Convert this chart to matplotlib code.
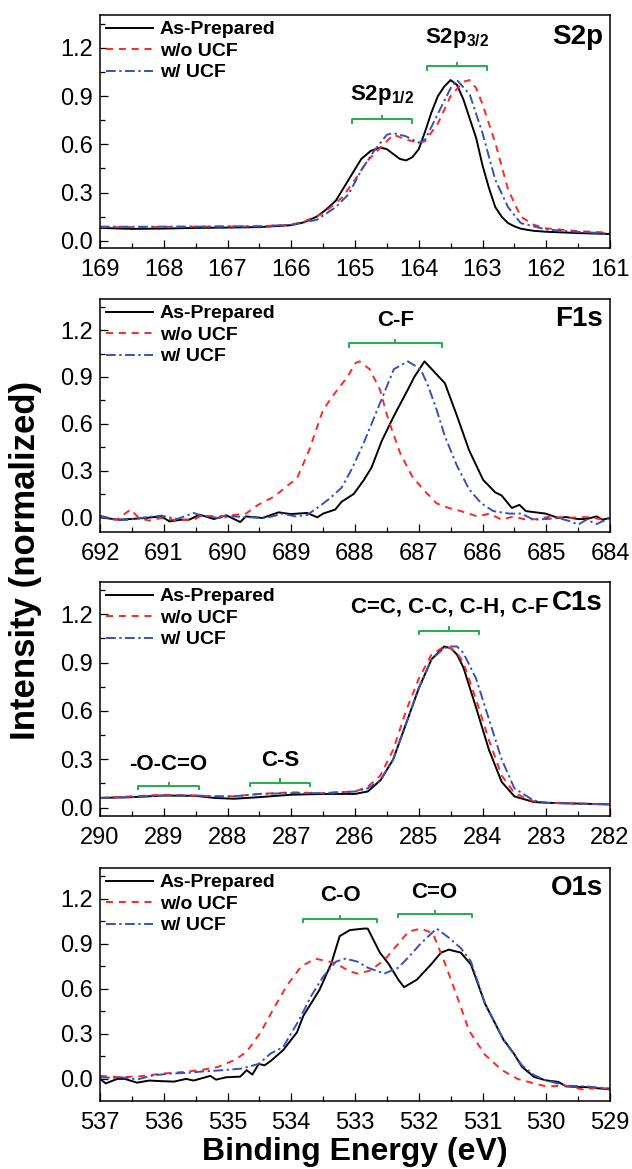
import matplotlib
matplotlib.use('Agg')
import matplotlib.pyplot as plt
from matplotlib.ticker import MultipleLocator, FormatStrFormatter

plt.rcParams['font.family'] = ['Liberation Sans', 'DejaVu Sans']
plt.rcParams['mathtext.fontset'] = 'custom'
plt.rcParams['mathtext.rm'] = 'Liberation Sans'
plt.rcParams['mathtext.bf'] = 'Liberation Sans:bold'

series_names = ['As-Prepared', 'w/o UCF', 'w/ UCF']

# ---- S2p ----
s2p_be_ap = [169, 168.5, 168, 167.5, 167, 166.5, 166, 165.8, 165.6, 165.45, 165.3, 165.1, 164.9,
             164.75, 164.6, 164.5, 164.4, 164.3, 164.2, 164.1, 164.0, 163.9, 163.8, 163.7, 163.6,
             163.5, 163.4, 163.3, 163.2, 163.1, 163.0, 162.9, 162.8, 162.7, 162.6, 162.5, 162.4,
             162.2, 162.0, 161.5, 161]
s2p_ap = [0.08, 0.074, 0.076, 0.08, 0.082, 0.085, 0.097, 0.115, 0.15, 0.195, 0.25, 0.38, 0.51,
          0.56, 0.58, 0.57, 0.54, 0.51, 0.50, 0.52, 0.57, 0.68, 0.80, 0.90, 0.96,
          1.0, 0.97, 0.88, 0.76, 0.64, 0.47, 0.33, 0.21, 0.15, 0.11, 0.09, 0.075,
          0.062, 0.056, 0.048, 0.042]
s2p_be_wo = [169, 168.5, 168, 167.5, 167, 166.5, 166, 165.8, 165.5, 165.2, 165.0, 164.8, 164.6,
             164.4, 164.2, 164.0, 163.9, 163.7, 163.5, 163.3, 163.2, 163.1, 163.0, 162.8, 162.6,
             162.4, 162.2, 162.0, 161.5, 161]
s2p_wo = [0.085, 0.085, 0.086, 0.088, 0.088, 0.09, 0.10, 0.12, 0.17, 0.27, 0.38, 0.50, 0.58,
          0.66, 0.63, 0.61, 0.62, 0.73, 0.90, 0.99, 1.0, 0.95, 0.85, 0.61, 0.32,
          0.15, 0.10, 0.077, 0.06, 0.05]
s2p_be_w = [169, 168.5, 168, 167.5, 167, 166.5, 166, 165.6, 165.3, 165.1, 164.9, 164.7, 164.5,
            164.4, 164.2, 164.0, 163.9, 163.7, 163.5, 163.4, 163.2, 163.0, 162.8, 162.6, 162.4,
            162.0, 161.5, 161]
s2p_w = [0.088, 0.087, 0.088, 0.088, 0.09, 0.09, 0.10, 0.13, 0.21, 0.29, 0.44, 0.56, 0.66,
         0.67, 0.65, 0.61, 0.63, 0.79, 0.95, 1.0, 0.91, 0.67, 0.38, 0.21, 0.11,
         0.07, 0.055, 0.045]

# ---- F1s ----
f1s_be_ap = [692, 691.71, 691.49, 691.29, 691.04, 690.91, 690.72, 690.60, 690.44, 690.21, 690.02,
             689.80, 689.71, 689.45, 689.20, 689.01, 688.75, 688.59, 688.50, 688.31, 688.21,
             688.02, 687.86, 687.74, 687.58, 687.39, 687.17, 687.07, 686.91, 686.75, 686.59,
             686.40, 686.21, 685.99, 685.80, 685.70, 685.54, 685.42, 685.32, 685.13, 685.01,
             684.81, 684.69, 684.50, 684.37, 684.21, 684.12, 684.0]
f1s_ap = [0.0, -0.015, -0.01, -0.004, 0.006, -0.026, -0.015, -0.015, 0.017, -0.011, 0.013,
          -0.03, 0.006, -0.004, 0.032, 0.021, 0.028, 0.0, 0.024, 0.05, 0.10,
          0.15, 0.24, 0.32, 0.49, 0.65, 0.82, 0.90, 1.0, 0.93, 0.86,
          0.65, 0.43, 0.24, 0.16, 0.14, 0.06, 0.08, 0.04, 0.03, 0.024,
          -0.004, 0.002, -0.011, -0.011, 0.006, -0.015, -0.004]
f1s_be_wo = [692, 691.74, 691.52, 691.39, 691.23, 691.04, 690.79, 690.53, 690.41, 690.15, 689.90,
             689.71, 689.52, 689.26, 689.07, 688.91, 688.72, 688.50, 688.31, 688.12, 687.99,
             687.93, 687.77, 687.61, 687.48, 687.29, 687.10, 686.91, 686.72, 686.53, 686.34,
             686.08, 685.89, 685.70, 685.51, 685.32, 685.13, 684.94, 684.69, 684.50, 684.31,
             684.12, 684.0]
f1s_wo = [0.006, -0.015, 0.05, -0.004, -0.021, -0.004, -0.019, -0.015, 0.011, 0.006, 0.015,
          0.024, 0.08, 0.135, 0.20, 0.25, 0.43, 0.69, 0.80, 0.90, 0.99,
          1.0, 0.95, 0.82, 0.63, 0.41, 0.26, 0.17, 0.09, 0.06, 0.04,
          0.006, 0.024, -0.015, 0.006, -0.015, -0.011, 0.006, -0.004, 0.0, 0.002,
          -0.015, -0.004]
f1s_be_w = [692, 691.74, 691.55, 691.29, 691.04, 690.79, 690.53, 690.41, 690.15, 689.90, 689.64,
            689.39, 689.13, 688.94, 688.75, 688.56, 688.40, 688.21, 688.05, 687.86, 687.67,
            687.48, 687.39, 687.17, 686.97, 686.85, 686.72, 686.59, 686.40, 686.21, 686.02,
            685.83, 685.58, 685.39, 685.20, 685.01, 684.81, 684.62, 684.50, 684.37, 684.21,
            684.12, 684.0]
f1s_w = [0.011, -0.019, -0.015, 0.0, 0.011, -0.011, 0.028, 0.011, -0.004, 0.006, 0.0,
         -0.004, 0.024, 0.006, 0.015, 0.07, 0.12, 0.19, 0.31, 0.48, 0.67,
         0.86, 0.95, 1.0, 0.95, 0.84, 0.69, 0.52, 0.33, 0.18, 0.09,
         0.04, 0.024, 0.024, -0.015, -0.011, -0.004, -0.026, -0.047, -0.015, -0.043,
         -0.026, -0.004]

# ---- C1s ----
c1s_be = [290, 289.5, 289, 288.5, 288.2, 287.9, 287.5, 287, 286.5, 286, 285.8, 285.6, 285.4,
          285.2, 285.0, 284.8, 284.6, 284.5, 284.4, 284.3, 284.1, 283.9, 283.7, 283.5, 283.2,
          283.0, 282.5, 282]
c1s_ap = [0.06, 0.065, 0.075, 0.073, 0.06, 0.055, 0.065, 0.08, 0.085, 0.085, 0.10, 0.17, 0.30,
          0.52, 0.74, 0.92, 1.0, 0.99, 0.95, 0.87, 0.62, 0.36, 0.16, 0.07, 0.035,
          0.03, 0.025, 0.02]
c1s_wo = [0.06, 0.07, 0.08, 0.075, 0.07, 0.07, 0.085, 0.095, 0.09, 0.10, 0.13, 0.20, 0.36,
          0.60, 0.80, 0.95, 1.0, 0.99, 0.96, 0.90, 0.67, 0.42, 0.20, 0.09, 0.04,
          0.03, 0.025, 0.02]
c1s_w = [0.06, 0.065, 0.075, 0.075, 0.07, 0.07, 0.085, 0.09, 0.09, 0.10, 0.12, 0.17, 0.30,
         0.52, 0.74, 0.92, 0.99, 1.0, 1.0, 0.96, 0.80, 0.55, 0.30, 0.12, 0.045,
         0.03, 0.025, 0.02]

# ---- O1s ----
o1s_be_ap = [537, 536.91, 536.73, 536.61, 536.42, 536.23, 536.03, 535.84, 535.65, 535.53, 535.27,
             535.18, 535.02, 534.80, 534.70, 534.61, 534.51, 534.42, 534.32, 534.13, 533.91,
             533.81, 533.56, 533.37, 533.24, 533.08, 532.86, 532.80, 532.61, 532.48, 532.32,
             532.23, 532.03, 531.81, 531.65, 531.53, 531.34, 531.18, 530.96, 530.67, 530.51,
             530.38, 530.19, 530.0, 529.81, 529.69, 529.37, 529.0]
o1s_ap = [0.0, -0.03, 0.0, 0.0, -0.025, -0.011, -0.015, -0.018, 0.0, -0.011, 0.02,
          -0.005, 0.011, 0.015, 0.058, 0.029, 0.10, 0.09, 0.12, 0.19, 0.31,
          0.42, 0.59, 0.77, 0.95, 0.99, 1.0, 1.0, 0.84, 0.77, 0.66,
          0.61, 0.66, 0.76, 0.84, 0.86, 0.84, 0.76, 0.50, 0.26, 0.17,
          0.08, 0.013, -0.01, -0.02, -0.05, -0.055, -0.07]
o1s_be_wo = [537, 536.67, 536.35, 536.03, 535.72, 535.40, 535.15, 534.89, 534.70, 534.48, 534.26,
             534.07, 533.84, 533.62, 533.30, 533.11, 532.96, 532.77, 532.54, 532.32, 532.16,
             531.97, 531.78, 531.59, 531.40, 531.21, 530.96, 530.70, 530.45, 530.19, 530.0,
             529.69, 529.43, 529.18, 529.0]
o1s_wo = [0.02, 0.011, 0.018, 0.035, 0.045, 0.06, 0.08, 0.125, 0.18, 0.31, 0.48,
          0.62, 0.75, 0.80, 0.77, 0.72, 0.70, 0.72, 0.79, 0.90, 0.98,
          1.0, 0.97, 0.77, 0.55, 0.32, 0.16, 0.06, 0.0, -0.03, -0.05,
          -0.045, -0.07, -0.06, -0.065]
o1s_be_w = [537, 536.80, 536.67, 536.42, 536.16, 535.91, 535.65, 535.40, 535.08, 534.77, 534.51,
            534.32, 534.13, 533.88, 533.69, 533.50, 533.30, 533.15, 532.96, 532.80, 532.54,
            532.32, 532.16, 531.97, 531.72, 531.53, 531.34, 531.18, 530.96, 530.67, 530.38,
            530.19, 530.0, 529.69, 529.37, 529.0]
o1s_w = [0.011, 0.007, 0.011, -0.004, 0.024, 0.035, 0.04, 0.049, 0.058, 0.069, 0.10,
         0.17, 0.21, 0.39, 0.55, 0.68, 0.78, 0.80, 0.78, 0.74, 0.70,
         0.74, 0.81, 0.90, 1.0, 0.94, 0.87, 0.78, 0.50, 0.26, 0.09,
         0.025, -0.01, -0.045, -0.05, -0.065]

# peak assignment brackets: (label, high BE, low BE, bracket height, label height)
s2p_marks = [(r'S2p$_{\mathbf{1/2}}$', 165.04, 164.10, 0.756, 0.91),
             (r'S2p$_{\mathbf{3/2}}$', 163.87, 162.93, 1.086, 1.26)]
f1s_marks = [('C-F', 688.1, 686.63, 1.116, 1.26)]
c1s_marks = [('-O-C=O', 289.4, 288.45, 0.133, 0.266),
             ('C-S', 287.65, 286.7, 0.155, 0.294),
             ('C=C, C-C, C-H, C-F', 284.99, 284.05, 1.098, 1.245)]
o1s_marks = [('C-O', 533.81, 532.66, 1.065, 1.22),
             ('C=O', 532.33, 531.17, 1.098, 1.24)]

panels = [
    ('S2p', (169, 161), (-0.045, 1.405),
     [(s2p_be_ap, s2p_ap), (s2p_be_wo, s2p_wo), (s2p_be_w, s2p_w)], s2p_marks),
    ('F1s', (692, 684), (-0.094, 1.40),
     [(f1s_be_ap, f1s_ap), (f1s_be_wo, f1s_wo), (f1s_be_w, f1s_w)], f1s_marks),
    ('C1s', (290, 282), (-0.052, 1.40),
     [(c1s_be, c1s_ap), (c1s_be, c1s_wo), (c1s_be, c1s_w)], c1s_marks),
    ('O1s', (537, 529), (-0.147, 1.403),
     [(o1s_be_ap, o1s_ap), (o1s_be_wo, o1s_wo), (o1s_be_w, o1s_w)], o1s_marks),
]

W, H = 632, 1169
fig = plt.figure(figsize=(W / 100, H / 100), dpi=100)

# axes boxes in pixels: (top, bottom)
boxes = [(15, 248), (299, 532), (582, 816), (868, 1101)]
ax_left, ax_right = 100, 610

styles = [dict(color='black', linestyle='-'),
          dict(color='#ff2626', linestyle=(0, (3.6, 3.0))),
          dict(color='#3553b8', linestyle=(0, (5.0, 1.8, 1.2, 1.8)))]
green = '#1fb04a'

for (name, xlim, ylim, curves, marks), (top, bot) in zip(panels, boxes):
    ax = fig.add_axes([ax_left / W, 1 - bot / H, (ax_right - ax_left) / W, (bot - top) / H])
    for (be, inten), lab, st in zip(curves, series_names, styles):
        ax.plot(be, inten, lw=1.4, label=lab, **st)
    ax.set_xlim(*xlim)
    ax.set_ylim(*ylim)

    ax.xaxis.set_major_locator(MultipleLocator(1))
    ax.xaxis.set_minor_locator(MultipleLocator(0.5))
    ax.yaxis.set_major_locator(MultipleLocator(0.3))
    ax.yaxis.set_minor_locator(MultipleLocator(0.15))
    ax.yaxis.set_major_formatter(FormatStrFormatter('%.1f'))
    ax.tick_params(which='both', direction='in', top=False, right=False, width=0.9)
    ax.tick_params(which='major', length=6, labelsize=17)
    ax.tick_params(axis='x', which='major', pad=8)
    ax.tick_params(axis='y', which='major', pad=5)
    ax.tick_params(which='minor', length=3.5)
    for sp in ax.spines.values():
        sp.set_linewidth(1.1)

    leg = ax.legend(loc='upper left', bbox_to_anchor=(0.012, 0.975), frameon=False,
                    borderaxespad=0, borderpad=0, handlelength=2.4, handletextpad=0.35,
                    labelspacing=0.2, prop={'weight': 'bold', 'size': 14})

    ax.text(xlim[1] + 0.11, 1.27, name, ha='right', va='center',
            fontsize=20, fontweight='bold')

    dy = (ylim[1] - ylim[0]) * 0.014
    for lab, x1, x2, yb, yt in marks:
        ax.plot([x1, x1, x2, x2], [yb - dy, yb, yb, yb - dy], color=green, lw=1.4)
        xc = (x1 + x2) / 2
        ax.plot([xc, xc], [yb, yb + dy], color=green, lw=1.4)
        ax.text(xc, yt, lab, ha='center', va='center', fontsize=16, fontweight='bold')

    if name == 'O1s':
        ax.set_xlabel('Binding Energy (eV)', fontsize=23, fontweight='bold', labelpad=2)

fig.text(26 / W, 1 - 560 / H, 'Intensity (normalized)', rotation=90, ha='center',
         va='center', fontsize=25, fontweight='bold')

fig.savefig('out.png', dpi=100)
